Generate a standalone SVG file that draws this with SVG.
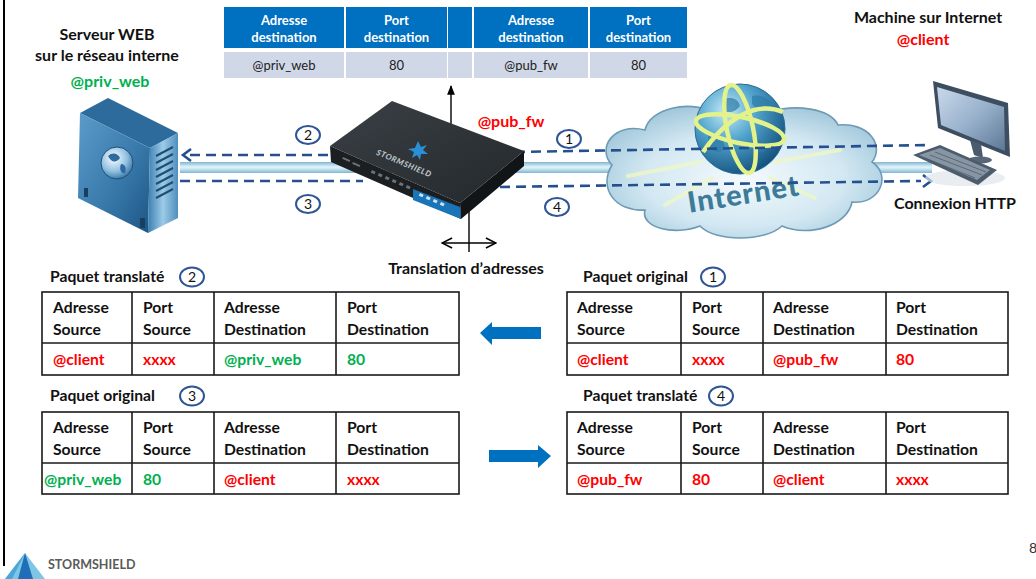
<svg xmlns="http://www.w3.org/2000/svg" width="1036" height="579" viewBox="0 0 1036 579">
<defs>
<style>
text{font-family:Lato,"Liberation Sans",sans-serif}
.title{font-weight:700;font-size:16px;fill:#111}
.th{font-weight:700;font-size:13px;fill:#fff;text-anchor:middle}
.td{font-size:13px;fill:#222;text-anchor:middle}
.hd{font-weight:700;font-size:15.7px;fill:#111}
.red{fill:#ff0000}
.green{fill:#00b050}
.grid{fill:#fff;stroke:#1a1a1a;stroke-width:1.6}
.gl{stroke:#1a1a1a;stroke-width:1.6}
.hcell{fill:#0070c0}
.dcell{fill:#d0d8e8}
.num ellipse{fill:#fff;stroke:#2f5597;stroke-width:2}
.num text{font-size:14px;text-anchor:middle;fill:#111}
.dash{fill:none;stroke:#24508f;stroke-width:2.6;stroke-dasharray:10 6}
.chev{fill:none;stroke:#24508f;stroke-width:2.6;stroke-linejoin:miter}
.thin{stroke:#000;stroke-width:1.4;fill:none}
.barrow{fill:#0070c0}
</style>
<marker id="tip" viewBox="0 0 10 10" refX="9" refY="5" markerWidth="7" markerHeight="7" orient="auto-start-reverse">
<path d="M0,1 L10,5 L0,9 z" fill="#000"/>
</marker>
<marker id="open" viewBox="0 0 10 10" refX="9" refY="5" markerWidth="9" markerHeight="9" orient="auto-start-reverse">
<path d="M1,1 L9,5 L1,9" fill="none" stroke="#000" stroke-width="1.2"/>
</marker>
<linearGradient id="band" x1="0" y1="0" x2="0" y2="1">
<stop offset="0" stop-color="#7fb6d2"/>
<stop offset="0.45" stop-color="#e2f3f9"/>
<stop offset="0.6" stop-color="#cfe9f3"/>
<stop offset="1" stop-color="#7fb6d2"/>
</linearGradient>
<radialGradient id="cloudg" cx="0.5" cy="0.55" r="0.6">
<stop offset="0" stop-color="#f4fafd"/>
<stop offset="0.6" stop-color="#d3e8f2"/>
<stop offset="1" stop-color="#9fc6da"/>
</radialGradient>
<radialGradient id="globeg" cx="0.35" cy="0.3" r="0.75">
<stop offset="0" stop-color="#c6ebf8"/>
<stop offset="0.45" stop-color="#4fa3cc"/>
<stop offset="1" stop-color="#13507c"/>
</radialGradient>
<linearGradient id="srvfront" x1="0" y1="0" x2="1" y2="1">
<stop offset="0" stop-color="#5b9ccb"/>
<stop offset="0.6" stop-color="#3677a8"/>
<stop offset="1" stop-color="#1d5583"/>
</linearGradient>
<linearGradient id="srvside" x1="0" y1="0" x2="1" y2="0">
<stop offset="0" stop-color="#3c7fb1"/>
<stop offset="0.5" stop-color="#9ccbe6"/>
<stop offset="1" stop-color="#4f8fbd"/>
</linearGradient>
<radialGradient id="sglobe" cx="0.4" cy="0.35" r="0.7">
<stop offset="0" stop-color="#ffffff"/>
<stop offset="0.6" stop-color="#8fbfe0"/>
<stop offset="1" stop-color="#2f6f9f"/>
</radialGradient>
<linearGradient id="screen" x1="0" y1="0" x2="1" y2="1">
<stop offset="0" stop-color="#c9d9ea"/>
<stop offset="0.5" stop-color="#9ab2cd"/>
<stop offset="1" stop-color="#5c7896"/>
</linearGradient>
<linearGradient id="fwtop" x1="0" y1="0" x2="1" y2="1">
<stop offset="0" stop-color="#3a4045"/>
<stop offset="1" stop-color="#23282c"/>
</linearGradient>
</defs>

<rect width="1036" height="579" fill="#fff"/>
<line x1="4" y1="0" x2="4" y2="566" stroke="#000" stroke-width="2"/>

<!-- address translation table on top -->
<g id="nat-table">
<rect class="hcell" x="224" y="7" width="120" height="41"/>
<rect class="hcell" x="346" y="7" width="101" height="41"/>
<rect class="hcell" x="448" y="7" width="24" height="41"/>
<rect class="hcell" x="474" y="7" width="114" height="41"/>
<rect class="hcell" x="590" y="7" width="97" height="41"/>
<rect class="dcell" x="224" y="52" width="120" height="26"/>
<rect class="dcell" x="346" y="52" width="101" height="26"/>
<rect class="dcell" x="448" y="52" width="24" height="26"/>
<rect class="dcell" x="474" y="52" width="114" height="26"/>
<rect class="dcell" x="590" y="52" width="97" height="26"/>
<text class="th" x="284" y="25">Adresse</text>
<text class="th" x="284" y="42">destination</text>
<text class="th" x="396.5" y="25">Port</text>
<text class="th" x="396.5" y="42">destination</text>
<text class="th" x="531" y="25">Adresse</text>
<text class="th" x="531" y="42">destination</text>
<text class="th" x="638.5" y="25">Port</text>
<text class="th" x="638.5" y="42">destination</text>
<text class="td" x="284" y="70">@priv_web</text>
<text class="td" x="396.5" y="70">80</text>
<text class="td" x="531" y="70">@pub_fw</text>
<text class="td" x="638.5" y="70">80</text>
</g>

<!-- link pipe -->
<rect x="180" y="162" width="752" height="11" fill="url(#band)"/>

<!-- internet cloud -->
<g id="internet">
<path d="M612,165 C596,148 614,122 645,130 C650,108 690,100 712,112 L770,112 C795,104 830,108 838,125 C868,122 885,145 872,162 C892,175 880,205 852,202 C848,225 810,238 782,226 C765,242 715,242 700,226 C675,236 640,228 645,210 C615,212 598,188 612,165 Z" fill="url(#cloudg)" stroke="#6f9ab5" stroke-width="1.6"/>
<g stroke="#eef7c8" stroke-width="4" stroke-linecap="round" opacity="0.8">
<line x1="700" y1="162" x2="628" y2="176"/>
<line x1="712" y1="178" x2="665" y2="205"/>
<line x1="775" y1="162" x2="840" y2="150"/>
<line x1="770" y1="178" x2="815" y2="198"/>
</g>
<circle cx="740" cy="129" r="45" fill="url(#globeg)" stroke="#2a6b95" stroke-width="1"/>
<path d="M722,100 c8,-4 16,-2 18,6 c-4,6 -12,8 -18,4 z M752,96 c10,-2 20,4 22,12 c-8,4 -18,2 -22,-4 z M708,135 c10,-4 18,4 16,14 c-6,6 -14,2 -16,-6 z M752,140 c8,-2 14,4 12,12 c-6,2 -12,-2 -12,-12 z" fill="#2d7aa6" opacity="0.7"/>
<g fill="none" stroke="#e3f38a" stroke-width="4.5">
<ellipse cx="740" cy="130" rx="45" ry="13" transform="rotate(12 740 130)"/>
<ellipse cx="740" cy="129" rx="13" ry="45" transform="rotate(-12 740 129)"/>
<path d="M703,152 C725,120 755,100 783,112"/>
</g>
<text x="745" y="204" transform="rotate(-9 745 204)" text-anchor="middle" font-size="29" font-weight="900" fill="#3d7c99" letter-spacing="1">Internet</text>
</g>

<!-- traffic flows -->
<g id="flows">
<line class="dash" x1="190" y1="155" x2="333" y2="155"/>
<polyline class="chev" points="191,149 183,155 191,161"/>
<line class="dash" x1="515" y1="152" x2="930" y2="145"/>
<line class="dash" x1="180" y1="181" x2="363" y2="181"/>
<line class="dash" x1="500" y1="187" x2="921" y2="181"/>
<polyline class="chev" points="923,175 931,181 923,187"/>
<line class="thin" x1="451" y1="130" x2="451" y2="86" marker-end="url(#tip)"/>
<line class="thin" x1="469" y1="210" x2="469" y2="252"/>
<line class="thin" x1="442" y1="243" x2="496" y2="243" marker-start="url(#open)" marker-end="url(#open)"/>
</g>

<!-- firewall appliance -->
<g id="firewall">
<polygon points="330,146 460,203 461,219 331,162" fill="#1b1f22"/>
<polygon points="460,203 524,151 524,166 461,219" fill="#121517"/>
<polygon points="330,146 392,101 524,151 460,203" fill="url(#fwtop)"/>
<polygon points="413,189 460,207 461,219 413,200" fill="#1a74b8"/>
<g fill="#6c7378">
<rect x="372" y="170" width="4" height="3" transform="rotate(24 372 170)"/>
<rect x="379" y="173" width="4" height="3" transform="rotate(24 379 173)"/>
<rect x="386" y="176" width="4" height="3" transform="rotate(24 386 176)"/>
<rect x="393" y="179" width="4" height="3" transform="rotate(24 393 179)"/>
<rect x="400" y="182" width="4" height="3" transform="rotate(24 400 182)"/>
<rect x="407" y="185" width="4" height="3" transform="rotate(24 407 185)"/>
<rect x="343" y="157" width="8" height="2" transform="rotate(24 343 157)"/>
<rect x="353" y="162" width="8" height="2" transform="rotate(24 353 162)"/>
</g>
<g fill="#cfe4f2">
<rect x="420" y="193" width="4" height="3" transform="rotate(24 420 193)"/>
<rect x="427" y="196" width="4" height="3" transform="rotate(24 427 196)"/>
<rect x="434" y="199" width="4" height="3" transform="rotate(24 434 199)"/>
<rect x="441" y="202" width="4" height="3" transform="rotate(24 441 202)"/>
</g>
<path d="M418,141 l3,6 l6,-2 l-4,5 l5,4 l-7,0 l-1,6 l-3,-5 l-5,3 l2,-6 l-6,-3 l7,-1 z" fill="#2a8fd6"/>
<text x="403" y="166" transform="rotate(23 403 166)" text-anchor="middle" font-size="8" font-weight="900" font-style="italic" fill="#b9c1c6" letter-spacing="0.6">STORMSHIELD</text>
</g>

<!-- web server -->
<g id="server">
<polygon points="80,113 108,98 178,133 150,148" fill="#2c6b9c"/>
<polygon points="80,113 150,148 148,233 78,198" fill="url(#srvfront)"/>
<polygon points="150,148 178,133 178,218 148,233" fill="url(#srvside)"/>
<g stroke="#1f4d73" stroke-width="2">
<line x1="156" y1="156" x2="173" y2="147"/>
<line x1="156" y1="163" x2="173" y2="154"/>
<line x1="156" y1="170" x2="173" y2="161"/>
<line x1="156" y1="177" x2="173" y2="168"/>
<line x1="156" y1="184" x2="173" y2="175"/>
<line x1="156" y1="191" x2="173" y2="182"/>
<line x1="156" y1="198" x2="173" y2="189"/>
</g>
<circle cx="117" cy="163" r="16" fill="url(#sglobe)" stroke="#1d4f78" stroke-width="1"/>
<path d="M108,156 c4,-4 10,-3 12,2 c-3,4 -8,6 -12,-2 z M121,164 c4,0 6,4 4,9 c-4,1 -6,-4 -4,-9 z" fill="#2c6aa0"/>
<rect x="84" y="188" width="4" height="9" fill="#173f60"/>
<rect x="140" y="218" width="5" height="10" fill="#173f60"/>
</g>

<!-- client computer -->
<g id="client">
<ellipse cx="965" cy="178" rx="40" ry="8" fill="#dfe6ec" opacity="0.7"/>
<polygon points="933,81 1008,103 1010,157 938,128" fill="#3d4e60"/>
<polygon points="937,87 1004,107 1005,151 941,125" fill="url(#screen)"/>
<polygon points="970,140 981,144 983,158 974,155" fill="#4a5b6c"/>
<ellipse cx="980" cy="160" rx="12" ry="3.5" fill="#56677a"/>
<polygon points="913,155 940,145 997,170 978,185" fill="#4d5c6c"/>
<polygon points="919,155 940,148 990,170 977,180" fill="#8896a4"/>
<g stroke="#4d5c6c" stroke-width="0.8">
<line x1="925" y1="158" x2="975" y2="178"/>
<line x1="930" y1="155" x2="982" y2="175"/>
<line x1="935" y1="152" x2="986" y2="172"/>
</g>
</g>

<!-- labels -->
<g id="labels">
<text class="title" x="107" y="40" text-anchor="middle">Serveur WEB</text>
<text class="title" x="107" y="61" text-anchor="middle">sur le réseau interne</text>
<text class="title green" x="110" y="87" text-anchor="middle">@priv_web</text>
<text class="title" x="928" y="23" text-anchor="middle">Machine sur Internet</text>
<text class="title red" x="923" y="45" text-anchor="middle">@client</text>
<text class="title" x="955" y="209" text-anchor="middle">Connexion HTTP</text>
<text class="title red" x="511" y="127" text-anchor="middle">@pub_fw</text>
<text class="title" x="466" y="274" text-anchor="middle">Translation d’adresses</text>
</g>

<!-- step markers -->
<g id="steps" class="num">
<g><ellipse cx="308" cy="135" rx="12" ry="9"/><text x="308" y="140">2</text></g>
<g><ellipse cx="569" cy="139" rx="12" ry="9"/><text x="569" y="144">1</text></g>
<g><ellipse cx="308" cy="204" rx="12" ry="9"/><text x="308" y="209">3</text></g>
<g><ellipse cx="557" cy="207" rx="12" ry="9"/><text x="557" y="212">4</text></g>
</g>

<!-- packet: translated (2) -->
<g id="pkt-2">
<text class="hd" x="50" y="282">Paquet translaté</text>
<g class="num"><ellipse cx="192" cy="277" rx="12" ry="9.5"/><text x="192" y="282">2</text></g>
<rect class="grid" x="42" y="292" width="417" height="83"/>
<line class="gl" x1="42" y1="343" x2="459" y2="343"/>
<line class="gl" x1="132" y1="292" x2="132" y2="375"/>
<line class="gl" x1="214" y1="292" x2="214" y2="375"/>
<line class="gl" x1="336" y1="292" x2="336" y2="375"/>
<text class="hd" x="53" y="313">Adresse</text><text class="hd" x="53" y="335">Source</text>
<text class="hd" x="143" y="313">Port</text><text class="hd" x="143" y="335">Source</text>
<text class="hd" x="224" y="313">Adresse</text><text class="hd" x="224" y="335">Destination</text>
<text class="hd" x="347" y="313">Port</text><text class="hd" x="347" y="335">Destination</text>
<text class="hd red" x="53" y="365">@client</text>
<text class="hd red" x="143" y="365">xxxx</text>
<text class="hd green" x="224" y="365">@priv_web</text>
<text class="hd green" x="347" y="365">80</text>
</g>

<!-- packet: original (3) -->
<g id="pkt-3">
<text class="hd" x="50" y="401">Paquet original</text>
<g class="num"><ellipse cx="192" cy="396" rx="12" ry="9.5"/><text x="192" y="401">3</text></g>
<rect class="grid" x="42" y="412" width="417" height="82"/>
<line class="gl" x1="42" y1="463" x2="459" y2="463"/>
<line class="gl" x1="132" y1="412" x2="132" y2="494"/>
<line class="gl" x1="214" y1="412" x2="214" y2="494"/>
<line class="gl" x1="336" y1="412" x2="336" y2="494"/>
<text class="hd" x="53" y="433">Adresse</text><text class="hd" x="53" y="455">Source</text>
<text class="hd" x="143" y="433">Port</text><text class="hd" x="143" y="455">Source</text>
<text class="hd" x="224" y="433">Adresse</text><text class="hd" x="224" y="455">Destination</text>
<text class="hd" x="347" y="433">Port</text><text class="hd" x="347" y="455">Destination</text>
<text class="hd green" x="44" y="485">@priv_web</text>
<text class="hd green" x="143" y="485">80</text>
<text class="hd red" x="224" y="485">@client</text>
<text class="hd red" x="347" y="485">xxxx</text>
</g>

<!-- packet: original (1) -->
<g id="pkt-1">
<text class="hd" x="583" y="282">Paquet original</text>
<g class="num"><ellipse cx="713" cy="277" rx="12" ry="9.5"/><text x="713" y="282">1</text></g>
<rect class="grid" x="567" y="292" width="441" height="83"/>
<line class="gl" x1="567" y1="343" x2="1008" y2="343"/>
<line class="gl" x1="681" y1="292" x2="681" y2="375"/>
<line class="gl" x1="763" y1="292" x2="763" y2="375"/>
<line class="gl" x1="886" y1="292" x2="886" y2="375"/>
<text class="hd" x="577" y="313">Adresse</text><text class="hd" x="577" y="335">Source</text>
<text class="hd" x="692" y="313">Port</text><text class="hd" x="692" y="335">Source</text>
<text class="hd" x="773" y="313">Adresse</text><text class="hd" x="773" y="335">Destination</text>
<text class="hd" x="896" y="313">Port</text><text class="hd" x="896" y="335">Destination</text>
<text class="hd red" x="577" y="365">@client</text>
<text class="hd red" x="692" y="365">xxxx</text>
<text class="hd red" x="773" y="365">@pub_fw</text>
<text class="hd red" x="896" y="365">80</text>
</g>

<!-- packet: translated (4) -->
<g id="pkt-4">
<text class="hd" x="583" y="401">Paquet translaté</text>
<g class="num"><ellipse cx="721" cy="396" rx="12" ry="9.5"/><text x="721" y="401">4</text></g>
<rect class="grid" x="567" y="412" width="441" height="82"/>
<line class="gl" x1="567" y1="463" x2="1008" y2="463"/>
<line class="gl" x1="681" y1="412" x2="681" y2="494"/>
<line class="gl" x1="763" y1="412" x2="763" y2="494"/>
<line class="gl" x1="886" y1="412" x2="886" y2="494"/>
<text class="hd" x="577" y="433">Adresse</text><text class="hd" x="577" y="455">Source</text>
<text class="hd" x="692" y="433">Port</text><text class="hd" x="692" y="455">Source</text>
<text class="hd" x="773" y="433">Adresse</text><text class="hd" x="773" y="455">Destination</text>
<text class="hd" x="896" y="433">Port</text><text class="hd" x="896" y="455">Destination</text>
<text class="hd red" x="577" y="485">@pub_fw</text>
<text class="hd red" x="692" y="485">80</text>
<text class="hd red" x="773" y="485">@client</text>
<text class="hd red" x="896" y="485">xxxx</text>
</g>

<!-- direction arrows between packets -->
<g id="dir-arrows">
<polygon class="barrow" points="480,333 492,322 492,327 541,327 541,339 492,339 492,345"/>
<polygon class="barrow" points="551,456 538,445 538,450 489,450 489,462 538,462 538,468"/>
</g>

<!-- footer -->
<g id="footer">
<polygon points="5,579 25,553 45,579" fill="#7fc6e6"/>
<polygon points="18,579 25,553 33,579" fill="#1f6fb8"/>
<polygon points="5,579 25,553 12,579" fill="#4aa6d8"/>
<text x="48" y="569" font-size="12.5" font-weight="700" fill="#5a5a5a" font-family="'Liberation Sans',sans-serif">STORMSHIELD</text>
<text x="1029" y="553" font-size="14" fill="#333" font-family="'Liberation Sans',sans-serif">8</text>
</g>
</svg>
